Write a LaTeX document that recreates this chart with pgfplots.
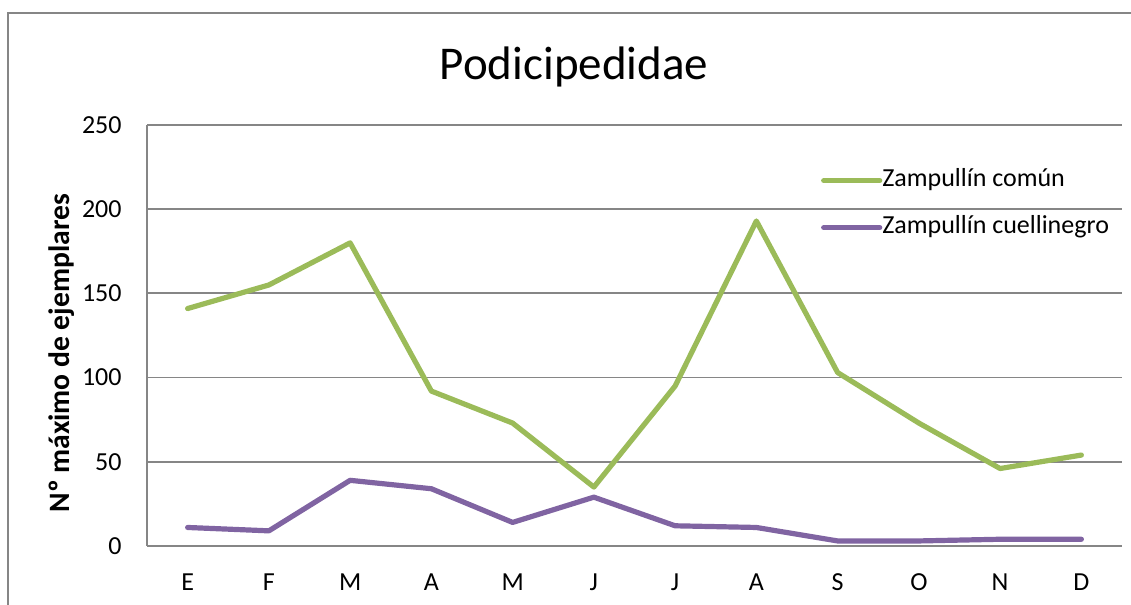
\documentclass[border=0pt]{standalone}
\usepackage{fontspec}
\setmainfont{Carlito}
\usepackage{pgfplots}
\pgfplotsset{compat=1.18}
\definecolor{cgreen}{HTML}{9BBB59}
\definecolor{cpurple}{HTML}{8064A2}
\definecolor{cgrid}{HTML}{868686}
\begin{document}
\begin{tikzpicture}[x=0.5pt,y=0.5pt]
\useasboundingbox (0,0) rectangle (1131,605);
\clip (0,0) rectangle (1131,605);
\draw[cgrid, line width=0.9pt] (8,-20) rectangle (1160,592);
\begin{axis}[
  at={(73.5pt,29.5pt)}, anchor=south west,
  scale only axis, width=487.5pt, height=210.5pt,
  xmin=-0.5, xmax=11.5, ymin=0, ymax=250,
  xtick={0,...,11},
  xticklabels={E,F,M,A,M,J,J,A,S,O,N,D},
  ytick={0,50,100,150,200,250},
  axis x line*=bottom, axis y line*=left,
  axis line style={cgrid, line width=0.9pt, -},
  ymajorgrids, grid style={cgrid, line width=0.9pt},
  major tick length=0pt,
  /pgf/number format/assume math mode=true,
  tick label style={font=\fontsize{13}{15}\selectfont, text=black},
  yticklabel style={anchor=east, inner sep=0pt, xshift=-12.5pt},
  xticklabel style={anchor=north, inner sep=0pt, yshift=-13.5pt},
  title={Podicipedidae},
  title style={at={(axis description cs:0.438,1.109)}, anchor=center, font=\fontsize{23.5}{28}\selectfont, inner sep=0pt},
  ylabel={Nº máximo de ejemplares},
  ylabel style={at={(axis description cs:-0.0872,0.458)}, anchor=center, font=\bfseries\fontsize{14.8}{17}\selectfont, inner sep=0pt},
  legend style={at={(axis description cs:0.691,0.812)}, anchor=west, draw=none, fill=none, inner sep=0pt,
    font=\fontsize{13}{15}\selectfont, row sep=11.5pt,
    nodes={inner sep=0pt, text height=9pt, text depth=3pt}},
  legend cell align=left,
  /tikz/every odd column/.append style={column sep=0pt},
  legend image code/.code={\draw[#1] (0pt,0pt) -- (28pt,0pt);},
]
\addplot[cgreen, line width=2.6pt, line join=round, line cap=round] coordinates {
 (0,141) (1,155) (2,180) (3,92) (4,73) (5,35) (6,95) (7,193) (8,103) (9,73) (10,46) (11,54)};
\addlegendentry{Zampullín común}
\addplot[cpurple, line width=2.6pt, line join=round, line cap=round] coordinates {
 (0,11) (1,9) (2,39) (3,34) (4,14) (5,29) (6,12) (7,11) (8,3) (9,3) (10,4) (11,4)};
\addlegendentry{Zampullín cuellinegro}
\end{axis}
\end{tikzpicture}
\end{document}
